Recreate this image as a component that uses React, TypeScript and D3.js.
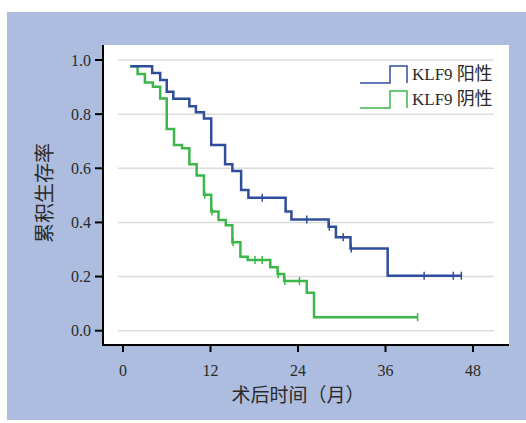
import React from 'react';
import * as d3 from 'd3';

const xTicks = [0, 12, 24, 36, 48];
const yTicks = [0, 0.2, 0.4, 0.6, 0.8, 1.0];
const seriesPrefix = ['KLF9', 'KLF9'];
const seriesSuffix = ['阳性', '阴性'];
const posTimes = [1, 4.0, 5.1, 6.0, 6.9, 9.1, 10.0, 11.1, 12.1, 14.0, 15.0, 16.2, 17.2, 22.3, 23.1, 28.2, 29.2, 31.2, 36.3, 46.4];
const posSurv = [0.977, 0.952, 0.926, 0.883, 0.857, 0.829, 0.807, 0.784, 0.686, 0.615, 0.590, 0.520, 0.491, 0.440, 0.411, 0.384, 0.345, 0.304, 0.203, 0.203];
const posCensor = [19.1, 25.2, 28.3, 30.2, 31.3, 41.3, 45.3, 46.4];
const negTimes = [1, 2.0, 3.0, 4.1, 5.1, 6.0, 7.0, 8.1, 9.1, 10.1, 11.1, 12.1, 13.1, 14.1, 15.0, 16.1, 17.1, 20.2, 21.2, 22.1, 25.2, 26.2, 40.4];
const negSurv = [0.977, 0.948, 0.917, 0.901, 0.858, 0.745, 0.686, 0.674, 0.615, 0.573, 0.502, 0.440, 0.409, 0.390, 0.327, 0.273, 0.261, 0.234, 0.209, 0.184, 0.140, 0.050, 0.050];
const negCensor = [11.2, 12.2, 15.1, 18.1, 19.1, 21.3, 22.2, 24.2, 40.4];

const BLUE = '#2f4d9d';
const GREEN = '#3db64b';
const PANEL = '#adbde0';
const TXT = '#2a2a2a';

const x = d3.scaleLinear().domain([0, 48]).range([123, 473]);
const y = d3.scaleLinear().domain([0, 1]).range([330.7, 60]);

function survAt(times: number[], surv: number[], t: number) {
  let v = surv[0];
  for (let i = 0; i < times.length; i++) if (times[i] <= t) v = surv[i];
  return v;
}

const line = d3.line<[number, number]>().x(d => x(d[0])).y(d => y(d[1])).curve(d3.curveStepAfter);

function Curve({ times, surv, censor, color }: { times: number[]; surv: number[]; censor: number[]; color: string }) {
  const pts = times.map((t, i) => [t, surv[i]] as [number, number]);
  return (
    <g>
      <path d={line(pts) || ''} fill="none" stroke={color} strokeWidth={2.5} />
      {censor.map((t, i) => {
        const cx = x(t);
        const cy = y(survAt(times, surv, t));
        return <line key={i} x1={cx} x2={cx} y1={cy - 4} y2={cy + 4} stroke={color} strokeWidth={1.5} />;
      })}
    </g>
  );
}

export default function App() {
  const legendRows = [
    { i: 0, color: BLUE, y0: 83 },
    { i: 1, color: GREEN, y0: 108 },
  ];
  return (
    <svg width={526} height={423} style={{ position: 'absolute', left: 0, top: 0, display: 'block' }}>
      <rect x={0} y={0} width={526} height={423} fill="#fff" />
      <rect x={7} y={12} width={519} height={408} fill={PANEL} />
      <rect x={103} y={45} width={406} height={300} fill="#fff" />
      {yTicks.map(t => (
        <line key={'g' + t} x1={118} x2={494} y1={y(t)} y2={y(t)} stroke="#dcdcdc" strokeWidth={1.5} />
      ))}
      <line x1={103} x2={103} y1={45} y2={346} stroke="#000" strokeWidth={2} />
      <line x1={102} x2={509} y1={345} y2={345} stroke="#000" strokeWidth={2} />
      {yTicks.map(t => (
        <g key={'y' + t}>
          <line x1={95} x2={103} y1={y(t)} y2={y(t)} stroke="#000" strokeWidth={2} />
          <text x={91} y={y(t)} dy="0.35em" textAnchor="end" fontFamily="'Liberation Serif', serif" fontSize={16} fill={TXT}>
            {t.toFixed(1)}
          </text>
        </g>
      ))}
      {xTicks.map(t => (
        <g key={'x' + t}>
          <line x1={x(t)} x2={x(t)} y1={345} y2={352} stroke="#000" strokeWidth={2} />
          <text x={x(t)} y={376} textAnchor="middle" fontFamily="'Liberation Serif', serif" fontSize={16} fill={TXT}>
            {t}
          </text>
        </g>
      ))}
      <text x={298} y={402} textAnchor="middle" fontFamily="'Noto Sans CJK SC', sans-serif" fontSize={19} fill={TXT}>
        术后时间（月）
      </text>
      <text transform="translate(52,193) rotate(-90)" textAnchor="middle" fontFamily="'Noto Sans CJK SC', sans-serif" fontSize={20} fill={TXT}>
        累积生存率
      </text>
      <Curve times={negTimes} surv={negSurv} censor={negCensor} color={GREEN} />
      <Curve times={posTimes} surv={posSurv} censor={posCensor} color={BLUE} />
      {legendRows.map(r => (
        <g key={r.i}>
          <path d={`M360,${r.y0}H390V${r.y0 - 17}H407V${r.y0}`} fill="none" stroke={r.color} strokeWidth={1.5} />
          <text x={412} y={r.y0 - 3} fontFamily="'Liberation Serif', serif" fontSize={17} fill={TXT}>
            {seriesPrefix[r.i]}
            <tspan dx={4} fontFamily="'Noto Sans CJK SC', sans-serif" fontSize={18}>{seriesSuffix[r.i]}</tspan>
          </text>
        </g>
      ))}
    </svg>
  );
}
